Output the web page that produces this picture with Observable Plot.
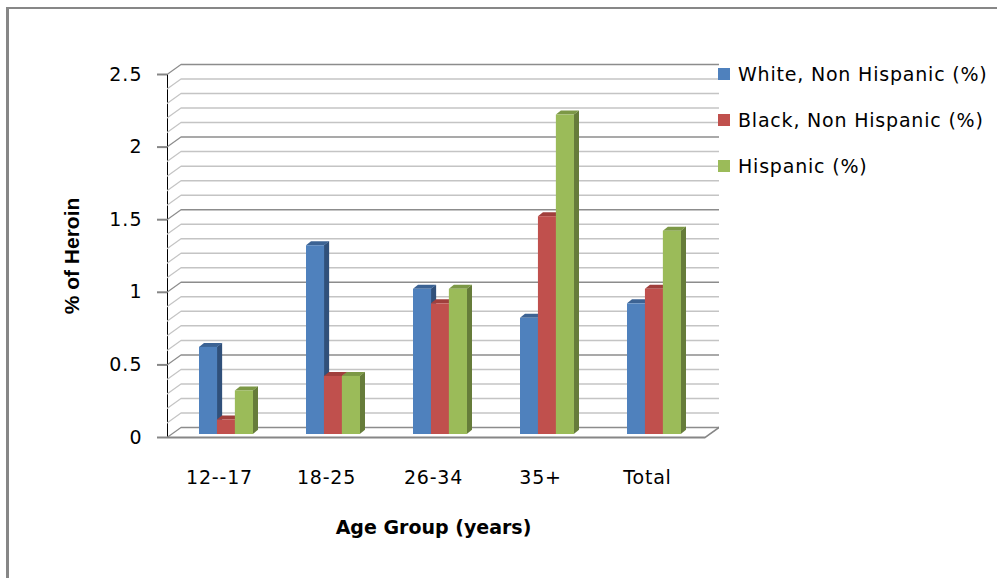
<!DOCTYPE html>
<html>
<head>
<meta charset="utf-8">
<script src="https://cdn.jsdelivr.net/npm/d3@7"></script>
<script src="https://cdn.jsdelivr.net/npm/@observablehq/plot@0.6"></script>
<style>
  html, body { margin: 0; padding: 0; background: #fff; }
  #stage { position: relative; width: 997px; height: 578px; overflow: hidden; background: #fff; }
  #border { position: absolute; left: 6px; top: 7px; width: 1100px; height: 700px;
            border-top: 2px solid #878787; border-left: 3px solid #878787; }
  .layer { position: absolute; left: 0; top: 0; }
  #main svg [aria-label^="y-axis"] line,
  #main svg [aria-label^="y-axis"] path { stroke: #868686 !important; stroke-width: 2px; }
  #main svg [aria-label^="y-axis"] text { font-size: 19px; letter-spacing: 1px; fill: #000; }
  #legend { position: absolute; left: 718px; top: 51px; width: 300px; }
  #legend .key-swatches { font-family: "DejaVu Sans", sans-serif; font-size: 19px; letter-spacing: 0.8px;
                          color: #000; margin: 0; width: 300px; }
  #legend .key-swatch { height: 46px; padding: 0 !important; margin: 0; display: flex; align-items: center; }
  #legend .key-swatch > svg { margin-right: 8px !important; }
  #legend [class*="swatch"] { overflow: visible !important; max-width: none !important; white-space: nowrap; }
</style>
</head>
<body>
<div id="stage">
  <div id="border"></div>
  <div id="main" class="layer"></div>
  <div id="legend"></div>
</div>
<script>
// Heroin use by age group and race / ethnicity (%)
const categories = ["12--17", "18-25", "26-34", "35+", "Total"];
const seriesNames = ["White, Non Hispanic (%)", "Black, Non Hispanic (%)", "Hispanic (%)"];
const whiteNonHispanic = [0.6, 1.3, 1.0, 0.8, 0.9];
const blackNonHispanic = [0.1, 0.4, 0.9, 1.5, 1.0];
const hispanic = [0.3, 0.4, 1.0, 2.2, 1.4];

const yTickValues = [0, 0.5, 1, 1.5, 2, 2.5];
const yTickLabels = ["0", "0.5", "1", "1.5", "2", "2.5"];
const yMinorValues = [0.1, 0.2, 0.3, 0.4, 0.6, 0.7, 0.8, 0.9, 1.1, 1.2, 1.3, 1.4,
                      1.6, 1.7, 1.8, 1.9, 2.1, 2.2, 2.3, 2.4];

// Column faces: front, right side and top
const frontColors = ["#4f81bd", "#c0504d", "#9bbb59"];
const sideColors = ["#30507a", "#8c3633", "#667c3a"];
const topColors = ["#3c6394", "#a03f3c", "#7c9846"];
const axisGray = "#868686";
const majorGrid = "#8c8c8c";
const minorGrid = "#c4c4c4";

// Layout
const W = 997, H = 578;
const M = {left: 167, right: 292, top: 74, bottom: 141};
const wall = {dx: 14, dy: -10};      // offset of the back wall
const barShift = {dx: 4, dy: -3};    // columns sit part-way into the depth
const barDepth = {dx: 5, dy: -4};    // visible depth of each column
const plotW = W - M.left - M.right;
const paddingInner = 0.5;
const step = plotW / categories.length;
const barW = step * (1 - paddingInner) / 3;

const seriesValues = [whiteNonHispanic, blackNonHispanic, hispanic];
const rows = seriesValues.map(vals => categories.map((c, j) => ({category: c, value: vals[j]})));

const barMarks = rows.flatMap((data, i) => {
  const inL = i * barW, inR = (2 - i) * barW;
  const common = {x: "category", dx: barShift.dx, dy: barShift.dy};
  return [
    Plot.barY(data, {...common, y: "value", fill: sideColors[i],
      insetLeft: inL + barW, insetRight: inR - barDepth.dx, ariaDescription: "bar side"}),
    Plot.barY(data, {...common, y1: "value", y2: "value", fill: topColors[i],
      insetLeft: inL, insetRight: inR, insetTop: barDepth.dy, ariaDescription: "bar top"}),
    Plot.barY(data, {...common, y: "value", fill: frontColors[i], insetLeft: inL, insetRight: inR})
  ];
});

const main = Plot.plot({
  width: W,
  height: H,
  marginLeft: M.left,
  marginRight: M.right,
  marginTop: M.top,
  marginBottom: M.bottom,
  style: {background: "transparent", fontFamily: "DejaVu Sans, sans-serif", fontSize: "19px",
          color: "#000", overflow: "visible"},
  x: {domain: categories, paddingInner, paddingOuter: paddingInner / 2, axis: null},
  y: {domain: [0, 2.5], ticks: yTickValues, tickFormat: d => yTickLabels[yTickValues.indexOf(d)],
      tickSize: 10, tickPadding: 15, line: true, label: null},
  marks: [
    // back wall gridlines
    Plot.ruleY(yMinorValues, {stroke: minorGrid, strokeWidth: 1.5, dx: wall.dx, dy: wall.dy}),
    Plot.ruleY(yTickValues, {stroke: majorGrid, strokeWidth: 1.5, dx: wall.dx, dy: wall.dy}),
    // side wall gridlines (slanted afterwards)
    Plot.ruleY(yMinorValues, {stroke: minorGrid, strokeWidth: 1.5, insetRight: plotW - wall.dx, ariaDescription: "side wall"}),
    Plot.ruleY(yTickValues, {stroke: majorGrid, strokeWidth: 1.5, insetRight: plotW - wall.dx, ariaDescription: "side wall"}),
    // floor edges
    Plot.ruleY([0], {stroke: axisGray, strokeWidth: 2, insetLeft: plotW, insetRight: -wall.dx, ariaDescription: "side wall"}),
    Plot.ruleY([0], {stroke: axisGray, strokeWidth: 2}),
    ...barMarks,
    // category labels and axis titles
    Plot.text(categories, {x: d => d, frameAnchor: "bottom", lineAnchor: "middle", dy: 40, dx: -3,
      fontSize: 19, fill: "#000", ariaDescription: "category label"}),
    Plot.text(["Age Group (years)"], {frameAnchor: "bottom", lineAnchor: "middle", dy: 90, dx: -3,
      fontWeight: "bold", fontSize: 19, fill: "#000"}),
    Plot.text(["% of Heroin"], {frameAnchor: "left", textAnchor: "middle", lineAnchor: "middle",
      rotate: -90, dx: -95, fontWeight: "bold", fontFamily: "Liberation Sans, Arial, sans-serif",
      fontSize: 21, fill: "#000"})
  ]
});

// Slant the side and top faces of the columns and the side wall lines
const tSide = barDepth.dy / barDepth.dx;
const tTop = barDepth.dx / barDepth.dy;
const tWall = wall.dy / wall.dx;
main.querySelectorAll('g[aria-description="bar side"] rect').forEach(r => {
  const x0 = +r.getAttribute("x");
  r.setAttribute("transform", `matrix(1 ${tSide} 0 1 0 ${-x0 * tSide})`);
});
main.querySelectorAll('g[aria-description="bar top"] rect').forEach(r => {
  const yb = +r.getAttribute("y") + +r.getAttribute("height");
  r.setAttribute("transform", `matrix(1 0 ${tTop} 1 ${-yb * tTop} 0)`);
});
main.querySelectorAll('g[aria-description="side wall"] line').forEach(l => {
  const x0 = +l.getAttribute("x1");
  l.setAttribute("transform", `matrix(1 ${tWall} 0 1 0 ${-x0 * tWall})`);
});
main.querySelectorAll('g[aria-description="category label"] text').forEach(t => {
  t.style.letterSpacing = "0.8px";
});
document.getElementById("main").append(main);

const legend = Plot.legend({
  color: {domain: seriesNames, range: frontColors},
  legend: "swatches",
  columns: 1,
  swatchSize: 12,
  className: "key"
});
document.getElementById("legend").append(legend);
</script>
</body>
</html>
